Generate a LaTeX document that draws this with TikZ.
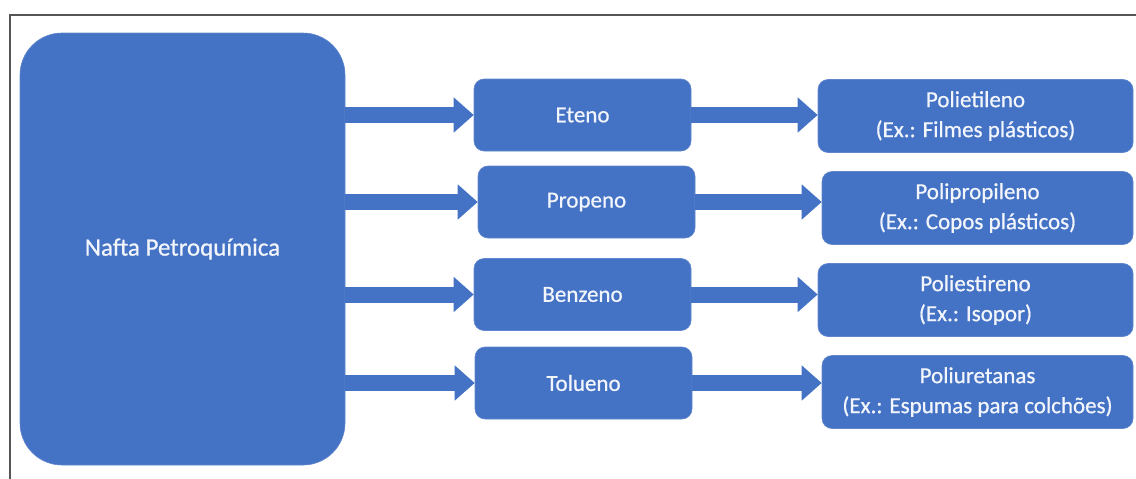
\documentclass[tikz,border=0pt]{standalone}
\usepackage{fontspec}
\setmainfont{Carlito}
\newfontfamily\boxfont{Carlito}[FakeBold=0.7]
\usetikzlibrary{arrows.meta}
\definecolor{officeblue}{HTML}{4472C4}
\definecolor{frameline}{HTML}{555555}
\definecolor{boxtext}{HTML}{F2F5FB}
\tikzset{
  box/.style={rectangle, rounded corners=10pt, fill=officeblue, draw=officeblue!85!white, line width=0.6pt,
    text=boxtext, align=center, font=\boxfont\fontsize{23}{30}\selectfont, inner sep=0pt},
  bigbox/.style={box, rounded corners=42pt, font=\boxfont\fontsize{25}{30}\selectfont},
  blockarrow/.style={draw=officeblue, line width=16pt, -{Triangle[width=34pt,length=20pt]}, shorten <=-0.3pt}
}
\begin{document}
\begin{tikzpicture}[x=1pt,y=-1pt]
\useasboundingbox (0,0) rectangle (1136,479);
\draw[frameline, line width=1.4pt] (10,479) -- (10,15) -- (1136,15);

\node[bigbox, minimum width=325pt, minimum height=432pt] (nafta) at (182.5,249) {Nafta Petroquímica};

\node[box, minimum width=217pt, minimum height=72pt] (eteno) at (582.5,115) {Eteno};
\node[box, minimum width=217pt, minimum height=72pt] (propeno) at (586.5,202) {Propeno};
\node[box, minimum width=217pt, minimum height=72pt] (benzeno) at (582.5,294.5) {Benzeno};
\node[box, minimum width=217pt, minimum height=72pt] (tolueno) at (583.5,383) {Tolueno};

\node[box, minimum width=315pt, minimum height=73pt] (polietileno) at (975.5,116) {Polietileno\\(Ex.: Filmes plásticos)};
\node[box, minimum width=311pt, minimum height=73pt] (polipropileno) at (977.5,208) {Polipropileno\\(Ex.: Copos plásticos)};
\node[box, minimum width=315pt, minimum height=73pt] (poliestireno) at (975.5,300) {Poliestireno\\(Ex.: Isopor)};
\node[box, minimum width=311pt, minimum height=73pt] (poliuretanas) at (977.5,392) {Poliuretanas\\(Ex.: Espumas para colchões)};

\draw[blockarrow] (nafta.east |- eteno.west) -- (eteno.west);
\draw[blockarrow] (nafta.east |- propeno.west) -- (propeno.west);
\draw[blockarrow] (nafta.east |- benzeno.west) -- (benzeno.west);
\draw[blockarrow] (nafta.east |- tolueno.west) -- (tolueno.west);

\draw[blockarrow] (eteno.east) -- (eteno.east -| polietileno.west);
\draw[blockarrow] (propeno.east) -- (propeno.east -| polipropileno.west);
\draw[blockarrow] (benzeno.east) -- (benzeno.east -| poliestireno.west);
\draw[blockarrow] (tolueno.east) -- (tolueno.east -| poliuretanas.west);
\end{tikzpicture}
\end{document}
